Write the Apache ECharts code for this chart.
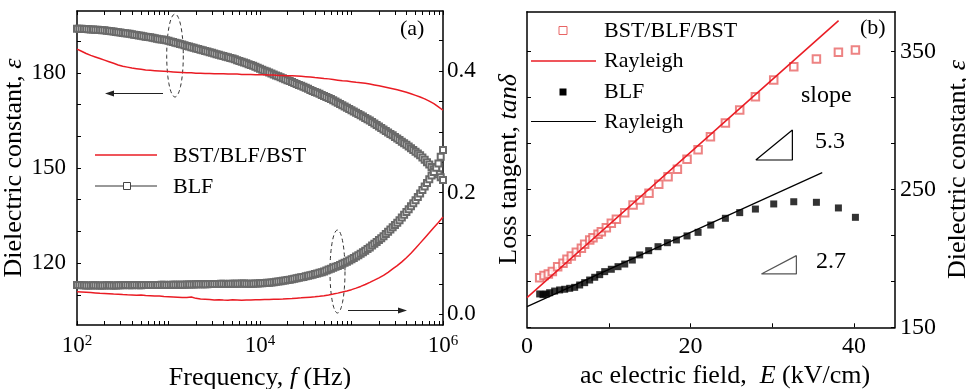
<!DOCTYPE html>
<html><head><meta charset="utf-8">
<script src="https://cdn.jsdelivr.net/npm/echarts@6/dist/echarts.min.js"></script>
<style>html,body{margin:0;padding:0;background:#fff}#c{width:966px;height:389px}</style>
</head><body><div id="c"></div>
<script>
// ---------- Panel (a) data: frequency exponents (log10 f) ----------
const logFreq = [2.00,2.05,2.10,2.15,2.20,2.25,2.30,2.35,2.40,2.45,2.50,2.55,2.60,2.65,2.70,2.75,2.80,2.85,2.90,2.95,
3.00,3.05,3.10,3.15,3.20,3.25,3.30,3.35,3.40,3.45,3.50,3.55,3.60,3.65,3.70,3.75,3.80,3.85,3.90,3.95,
4.00,4.05,4.10,4.15,4.20,4.25,4.30,4.35,4.40,4.45,4.50,4.55,4.60,4.65,4.70,4.75,4.80,4.85,4.90,4.95,
5.00,5.05,5.10,5.15,5.20,5.25,5.30,5.35,5.40,5.45,5.50,5.55,5.60,5.65,5.70,5.75,5.80,5.85,5.90,5.95,6.00];
// denser frequency grid of the BLF measurement (open squares)
const logFreqBlf = [2.000,2.025,2.050,2.075,2.100,2.125,2.150,2.175,2.200,2.225,2.250,2.275,2.300,2.325,2.350,2.375,2.400,2.425,2.450,2.475,
2.500,2.525,2.550,2.575,2.600,2.625,2.650,2.675,2.700,2.725,2.750,2.775,2.800,2.825,2.850,2.875,2.900,2.925,2.950,2.975,
3.000,3.025,3.050,3.075,3.100,3.125,3.150,3.175,3.200,3.225,3.250,3.275,3.300,3.325,3.350,3.375,3.400,3.425,3.450,3.475,
3.500,3.525,3.550,3.575,3.600,3.625,3.650,3.675,3.700,3.725,3.750,3.775,3.800,3.825,3.850,3.875,3.900,3.925,3.950,3.975,
4.000,4.025,4.050,4.075,4.100,4.125,4.150,4.175,4.200,4.225,4.250,4.275,4.300,4.325,4.350,4.375,4.400,4.425,4.450,4.475,
4.500,4.525,4.550,4.575,4.600,4.625,4.650,4.675,4.700,4.725,4.750,4.775,4.800,4.825,4.850,4.875,4.900,4.925,4.950,4.975,
5.000,5.025,5.050,5.075,5.100,5.125,5.150,5.175,5.200,5.225,5.250,5.275,5.300,5.325,5.350,5.375,5.400,5.425,5.450,5.475,
5.500,5.525,5.550,5.575,5.600,5.625,5.650,5.675,5.700,5.725,5.750,5.775,5.800,5.825,5.850,5.875,5.900,5.925,5.950,5.975,6.000];
const bstEps = [187.5,186.8,186.1,185.5,185.0,184.5,184.0,183.5,183.0,182.5,182.1,181.8,181.5,181.3,181.1,180.9,180.8,180.7,180.6,180.5,
180.4,180.3,180.2,180.1,180.0,180.0,179.9,179.9,179.8,179.8,179.7,179.7,179.7,179.6,179.6,179.6,179.5,179.5,179.5,179.4,
179.4,179.4,179.3,179.3,179.2,179.2,179.1,179.1,179.0,178.9,178.8,178.7,178.5,178.4,178.2,178.1,177.9,177.7,177.5,177.4,
177.2,177.0,176.9,176.7,176.5,176.2,175.9,175.6,175.3,175.0,174.7,174.3,173.9,173.4,172.9,172.4,171.8,171.1,170.3,169.3,168.2];
const blfEps = [193.9,193.9,193.9,193.85,193.8,193.75,193.7,193.65,193.6,193.55,193.5,193.45,193.4,193.3,193.2,193.1,193.0,192.9,192.8,192.7,
192.6,192.5,192.4,192.3,192.2,192.05,191.9,191.8,191.7,191.55,191.4,191.3,191.2,191.05,190.9,190.75,190.6,190.5,190.4,190.25,
190.1,189.9,189.7,189.5,189.3,189.1,188.9,188.7,188.5,188.3,188.1,187.9,187.7,187.5,187.3,187.1,186.9,186.7,186.5,186.3,
186.1,185.9,185.7,185.5,185.3,185.1,184.9,184.7,184.5,184.25,184.0,183.75,183.5,183.25,183.0,182.75,182.5,182.2,181.9,181.6,
181.3,181.0,180.7,180.4,180.1,179.8,179.5,179.2,178.9,178.6,178.3,178.0,177.7,177.4,177.1,176.8,176.5,176.2,175.9,175.6,
175.3,174.95,174.6,174.3,174.0,173.7,173.4,173.05,172.7,172.4,172.1,171.75,171.4,171.0,170.6,170.2,169.8,169.4,169.0,168.6,
168.2,167.8,167.4,167.0,166.6,166.2,165.8,165.4,165.0,164.5,164.0,163.55,163.1,162.6,162.1,161.65,161.2,160.75,160.3,159.8,
159.3,158.8,158.3,157.8,157.3,156.75,156.2,155.65,155.1,154.55,154.0,153.3,152.6,151.85,151.1,150.35,149.6,148.8,148.0,147.1,146.2];
const bstTan = [0.0370,0.0366,0.0362,0.0357,0.0352,0.0346,0.0342,0.0338,0.0333,0.0330,0.0325,0.0321,0.0318,0.0315,0.0316,0.0309,0.0306,0.0301,0.0299,0.0293,
0.0290,0.0286,0.0282,0.0278,0.0276,0.0283,0.0262,0.0252,0.0248,0.0244,0.0236,0.0240,0.0235,0.0232,0.0238,0.0236,0.0231,0.0234,0.0236,0.0240,
0.0238,0.0242,0.0243,0.0246,0.0248,0.0251,0.0256,0.0260,0.0265,0.0270,0.0276,0.0282,0.0288,0.0296,0.0305,0.0318,0.0332,0.0348,0.0365,0.0384,
0.0405,0.0430,0.0458,0.0490,0.0525,0.0562,0.0600,0.0640,0.0690,0.0745,0.0800,0.0862,0.0930,0.1005,0.1085,0.1170,0.1255,0.1340,0.1425,0.1510,0.1600];
const blfTan = [0.0482,0.0480,0.0478,0.0476,0.0475,0.0473,0.0474,0.0476,0.0476,0.0474,0.0473,0.0475,0.0475,0.0477,0.0477,0.0475,0.0474,0.0475,0.0476,0.0478,
0.0478,0.0480,0.0480,0.0479,0.0479,0.0481,0.0480,0.0479,0.0478,0.0480,0.0481,0.0483,0.0483,0.0481,0.0480,0.0481,0.0482,0.0484,0.0484,0.0483,
0.0483,0.0484,0.0485,0.0487,0.0487,0.0486,0.0486,0.0487,0.0488,0.0489,0.0490,0.0491,0.0492,0.0493,0.0494,0.0494,0.0493,0.0495,0.0496,0.0497,
0.0498,0.0499,0.0500,0.0501,0.0502,0.0500,0.0499,0.0502,0.0504,0.0504,0.0503,0.0504,0.0505,0.0505,0.0504,0.0503,0.0502,0.0504,0.0506,0.0508,
0.0510,0.0512,0.0514,0.0517,0.0520,0.0524,0.0528,0.0533,0.0538,0.0544,0.0550,0.0556,0.0562,0.0569,0.0576,0.0583,0.0591,0.0599,0.0607,0.0615,
0.0624,0.0633,0.0642,0.0652,0.0662,0.0672,0.0682,0.0693,0.0705,0.0720,0.0735,0.0750,0.0765,0.0780,0.0795,0.0812,0.0830,0.0847,0.0865,0.0885,
0.0905,0.0927,0.0950,0.0972,0.0995,0.1020,0.1045,0.1072,0.1100,0.1130,0.1160,0.1190,0.1220,0.1252,0.1285,0.1320,0.1355,0.1392,0.1430,0.1467,
0.1505,0.1547,0.1590,0.1635,0.1680,0.1727,0.1775,0.1825,0.1875,0.1930,0.1985,0.2042,0.2100,0.2160,0.2220,0.2280,0.2340,0.2410,0.2480,0.2590,0.2700];
const epsTicksA = [110,120,130,140,150,160,170,180,190];
const epsLabelsA = [120,150,180];
const tanTicksA = [0,0.05,0.1,0.15,0.2,0.25,0.3,0.35,0.4,0.45];
const tanLabelsA = [0,0.2,0.4];
const freqLabelsA = [100,10000,1000000];

// ---------- Panel (b) data ----------
const fieldBst = [1.55,2.08,2.61,3.10,3.75,4.40,4.89,5.42,6.03,6.65,7.05,7.67,8.07,8.69,9.09,9.70,10.31,10.93,11.95,12.97,13.78,14.92,16.11,17.25,18.39,19.57,20.92,22.43,24.26,26.01,27.93,30.17,32.62,35.39,38.08,40.16];
const epsBst = [186.0,187.5,188.7,190.4,194.0,196.4,199.3,201.7,204.4,207.3,210.2,213.4,215.0,217.5,219.4,222.3,225.5,228.4,233.2,238.8,242.4,247.2,253.8,259.3,264.7,271.9,278.9,288.3,298.3,307.7,317.3,329.5,339.1,344.7,349.6,351.2];
const fieldBlf = [1.55,1.96,2.36,2.77,3.38,3.99,4.61,5.22,5.83,6.44,7.05,7.66,8.28,8.89,9.50,10.31,11.13,11.95,12.88,13.78,14.88,16.02,17.17,18.27,19.57,20.92,22.47,24.26,26.01,27.93,30.17,32.62,35.39,38.08,40.16];
const epsBlf = [174.2,173.7,174.2,175.1,176.3,177.1,177.6,178.3,179.0,180.7,182.4,184.3,186.3,188.2,190.4,192.1,194.0,195.9,198.8,202.5,205.6,208.5,211.4,213.4,216.3,218.9,224.2,229.1,233.2,235.8,239.5,241.1,240.7,236.6,229.8];
const rayBstE = [0, 38.1];
const rayBstEps = [171.5, 372.5];
const rayBlfE = [0, 36.1];
const rayBlfEps = [165.0, 262.2];
const tri53E = [27.98, 32.45, 32.45, 27.98];
const tri53Eps = [271.4, 271.4, 293.2, 271.4];
const tri27E = [28.66, 32.94, 32.94, 28.66];
const tri27Eps = [188.7, 188.7, 202.0, 188.7];
const fieldTicksB = [10,20,30,40];
const fieldLabelsB = [0,20,40];
const epsTicksB = [150,183.333,216.667,250,283.333,316.667,350];
const epsLabelsB = [150,250,350];

// ---------- build ----------
const FONT = 'Liberation Serif';
const freqTicksA = [];
for (let e = 2; e <= 5; e++) for (let k = 1; k <= 9; k++) freqTicksA.push(k * Math.pow(10, e));
freqTicksA.push(1e6);

const zip = (a, b) => a.map((v, i) => [v, b[i]]);
const freqs = logFreq.map(e => Math.pow(10, e));
const freqsBlf = logFreqBlf.map(e => Math.pow(10, e));

const axisLine = {show: true, onZero: false, lineStyle: {color: '#000', width: 1.5}};
const tickStyle = {color: '#000', width: 1};
const rn = {fontFamily: FONT, fontSize: 26, color: '#000'};
const ri = {fontFamily: FONT, fontSize: 26, color: '#000', fontStyle: 'italic'};

function ellipsePts(cx, cy, rx, ry) {
  const p = [];
  for (let i = 0; i < 60; i++) { const t = i / 60 * Math.PI * 2; p.push([cx + rx * Math.cos(t), cy + ry * Math.sin(t)]); }
  return p;
}
const txt = (x, y, s, size) => ({type: 'text', x: x, y: y, silent: true,
  style: {text: s, fontFamily: FONT, fontSize: size, fill: '#000', verticalAlign: 'middle', align: 'left'}});

const option = {
  backgroundColor: '#fff',
  animation: false,
  textStyle: {fontFamily: FONT},
  grid: [
    {left: 77, right: 523, top: 11, bottom: 64, containLabel: false, outerBoundsMode: 'none'},
    {left: 527, right: 71, top: 11.7, bottom: 61.7, containLabel: false, outerBoundsMode: 'none'}
  ],
  xAxis: [
    {gridIndex: 0, type: 'log', logBase: 10, min: 100, max: 1e6, position: 'bottom', axisLine,
     axisTick: {inside: true, length: 4, customValues: freqTicksA, lineStyle: tickStyle},
     axisLabel: {customValues: freqLabelsA, margin: 9, color: '#000',
       formatter: v => '{b|10}{s|' + Math.round(Math.log10(v)) + '}',
       rich: {b: {fontFamily: FONT, fontSize: 23, color: '#000'}, s: {fontFamily: FONT, fontSize: 15, color: '#000', verticalAlign: 'top'}}},
     splitLine: {show: false},
     name: '{n|Frequency, }{i|f}{n| (Hz)}', nameLocation: 'middle', nameGap: 40,
     nameTextStyle: {rich: {n: rn, i: ri}}},
    {gridIndex: 0, type: 'log', logBase: 10, min: 100, max: 1e6, position: 'top', axisLine,
     axisTick: {inside: true, length: 4, customValues: freqTicksA, lineStyle: tickStyle},
     axisLabel: {show: false}, splitLine: {show: false}},
    {gridIndex: 1, type: 'value', min: 0, max: 45, position: 'bottom', axisLine,
     axisTick: {inside: true, length: 4, customValues: fieldTicksB, lineStyle: tickStyle},
     axisLabel: {customValues: fieldLabelsB, margin: 7, color: '#000', fontFamily: FONT, fontSize: 24},
     splitLine: {show: false},
     name: '{n|ac electric field,  }{i|E}{n| (kV/cm)}', nameLocation: 'middle', nameGap: 33,
     nameTextStyle: {padding: [0, 0, 0, 28], rich: {n: rn, i: ri}}},
    {gridIndex: 1, type: 'value', min: 0, max: 45, position: 'top', axisLine,
     axisTick: {show: false}, axisLabel: {show: false}, splitLine: {show: false}}
  ],
  yAxis: [
    {gridIndex: 0, type: 'value', min: 100.5, max: 199.5, position: 'left', axisLine,
     axisTick: {inside: true, length: 4, customValues: epsTicksA, lineStyle: tickStyle},
     axisLabel: {customValues: epsLabelsA, margin: 11, color: '#000', fontFamily: FONT, fontSize: 23},
     splitLine: {show: false},
     name: '{n|Dielectric constant, }{i|ε}', nameLocation: 'middle', nameGap: 44,
     nameTextStyle: {rich: {n: rn, i: ri}}},
    {gridIndex: 0, type: 'value', min: -0.0176, max: 0.4986, position: 'right', axisLine,
     axisTick: {inside: true, length: 4, customValues: tanTicksA, lineStyle: tickStyle},
     axisLabel: {customValues: tanLabelsA, margin: 4, color: '#000', fontFamily: FONT, fontSize: 23,
       formatter: v => v.toFixed(1)},
     splitLine: {show: false}},
    {gridIndex: 1, type: 'value', min: 150, max: 379, position: 'left', axisLine,
     axisTick: {inside: true, length: 4, customValues: epsTicksB, lineStyle: tickStyle},
     axisLabel: {show: false}, splitLine: {show: false},
     name: '{n|Loss tangent, }{i|tanδ}', nameLocation: 'middle', nameGap: 5,
     nameTextStyle: {rich: {n: rn, i: ri}}},
    {gridIndex: 1, type: 'value', min: 150, max: 379, position: 'right', axisLine,
     axisTick: {inside: true, length: 4, customValues: epsTicksB, lineStyle: tickStyle},
     axisLabel: {customValues: epsLabelsB, margin: 5, color: '#000', fontFamily: FONT, fontSize: 24},
     splitLine: {show: false},
     name: '{n|Dielectric constant, }{i|ε}', nameLocation: 'middle', nameGap: 50,
     nameTextStyle: {rich: {n: rn, i: ri}}}
  ],
  series: [
    {name: 'BLF eps', type: 'line', xAxisIndex: 0, yAxisIndex: 0, data: zip(freqsBlf, blfEps),
     symbol: 'emptyRect', symbolSize: 6, showAllSymbol: true,
     itemStyle: {color: '#6a6a6a', borderColor: '#6a6a6a', borderWidth: 1}, lineStyle: {color: '#111', width: 1}, z: 3},
    {name: 'BLF tan', type: 'line', xAxisIndex: 0, yAxisIndex: 1, data: zip(freqsBlf, blfTan),
     symbol: 'emptyRect', symbolSize: 6, showAllSymbol: true,
     itemStyle: {color: '#6a6a6a', borderColor: '#6a6a6a', borderWidth: 1}, lineStyle: {color: '#111', width: 1}, z: 3},
    {name: 'BST eps', type: 'line', xAxisIndex: 0, yAxisIndex: 0, data: zip(freqs, bstEps),
     symbol: 'none', lineStyle: {color: '#ea1c24', width: 1.5}, z: 4},
    {name: 'BST tan', type: 'line', xAxisIndex: 0, yAxisIndex: 1, data: zip(freqs, bstTan),
     symbol: 'none', lineStyle: {color: '#ea1c24', width: 1.5}, z: 4},

    {name: 'BST/BLF/BST', type: 'scatter', xAxisIndex: 2, yAxisIndex: 3, data: zip(fieldBst, epsBst),
     symbol: 'emptyRect', symbolSize: 7.5, itemStyle: {color: '#e86464', borderColor: '#e86464', borderWidth: 1}},
    {name: 'Rayleigh red', type: 'line', xAxisIndex: 2, yAxisIndex: 3, data: zip(rayBstE, rayBstEps),
     symbol: 'none', lineStyle: {color: '#ea1c24', width: 1.5}},
    {name: 'BLF', type: 'scatter', xAxisIndex: 2, yAxisIndex: 3, data: zip(fieldBlf, epsBlf),
     symbol: 'rect', symbolSize: 7, itemStyle: {color: '#000'}},
    {name: 'Rayleigh black', type: 'line', xAxisIndex: 2, yAxisIndex: 3, data: zip(rayBlfE, rayBlfEps),
     symbol: 'none', lineStyle: {color: '#000', width: 1.2}},
    {name: 'slope 5.3', type: 'line', xAxisIndex: 2, yAxisIndex: 3, data: zip(tri53E, tri53Eps),
     symbol: 'none', lineStyle: {color: '#000', width: 1.2}},
    {name: 'slope 2.7', type: 'line', xAxisIndex: 2, yAxisIndex: 3, data: zip(tri27E, tri27Eps),
     symbol: 'none', lineStyle: {color: '#555', width: 1.2}}
  ],
  graphic: [
    // panel (a) legend
    {type: 'line', shape: {x1: 95, y1: 155, x2: 157, y2: 155}, style: {stroke: '#ea1c24', lineWidth: 1.5}, silent: true},
    txt(173, 156, 'BST/BLF/BST', 22),
    {type: 'line', shape: {x1: 95, y1: 186, x2: 157, y2: 186}, style: {stroke: '#333', lineWidth: 1}, silent: true},
    {type: 'rect', shape: {x: 123.5, y: 182.5, width: 7, height: 7}, style: {fill: '#fff', stroke: '#444', lineWidth: 1}, silent: true},
    txt(173, 187, 'BLF', 22),
    txt(400, 29, '(a)', 22),
    // ellipses and arrows of panel (a)
    {type: 'polygon', shape: {points: ellipsePts(175, 55.5, 8.3, 41.5)}, style: {fill: 'none', stroke: '#333', lineWidth: 1, lineDash: [4, 3]}, silent: true},
    {type: 'polygon', shape: {points: ellipsePts(337.5, 271.5, 7.5, 41.5)}, style: {fill: 'none', stroke: '#333', lineWidth: 1, lineDash: [4, 3]}, silent: true},
    {type: 'line', shape: {x1: 163, y1: 93.5, x2: 110, y2: 93.5}, style: {stroke: '#222', lineWidth: 1.2}, silent: true},
    {type: 'polygon', shape: {points: [[105, 93.5], [114, 90.5], [114, 96.5]]}, style: {fill: '#222'}, silent: true},
    {type: 'line', shape: {x1: 348, y1: 310.5, x2: 402, y2: 310.5}, style: {stroke: '#222', lineWidth: 1.2}, silent: true},
    {type: 'polygon', shape: {points: [[407, 310.5], [398, 307.5], [398, 313.5]]}, style: {fill: '#222'}, silent: true},
    // panel (b) legend
    {type: 'rect', shape: {x: 559, y: 26.5, width: 8, height: 8}, style: {fill: '#fff', stroke: '#e86464', lineWidth: 1}, silent: true},
    txt(604, 31, 'BST/BLF/BST', 22),
    {type: 'line', shape: {x1: 531, y1: 61, x2: 596, y2: 61}, style: {stroke: '#ea1c24', lineWidth: 1.5}, silent: true},
    txt(604, 61, 'Rayleigh', 22),
    {type: 'rect', shape: {x: 559.5, y: 88.5, width: 7, height: 7}, style: {fill: '#000'}, silent: true},
    txt(604, 92, 'BLF', 22),
    {type: 'line', shape: {x1: 531, y1: 121.5, x2: 596, y2: 121.5}, style: {stroke: '#000', lineWidth: 1.2}, silent: true},
    txt(604, 122, 'Rayleigh', 22),
    txt(860, 28, '(b)', 22),
    txt(801, 96, 'slope', 24),
    txt(815, 142, '5.3', 24),
    txt(816, 262, '2.7', 24)
  ]
};
const chart = echarts.init(document.getElementById('c'), null, {renderer: 'canvas'});
chart.setOption(option);
</script>
</body></html>
